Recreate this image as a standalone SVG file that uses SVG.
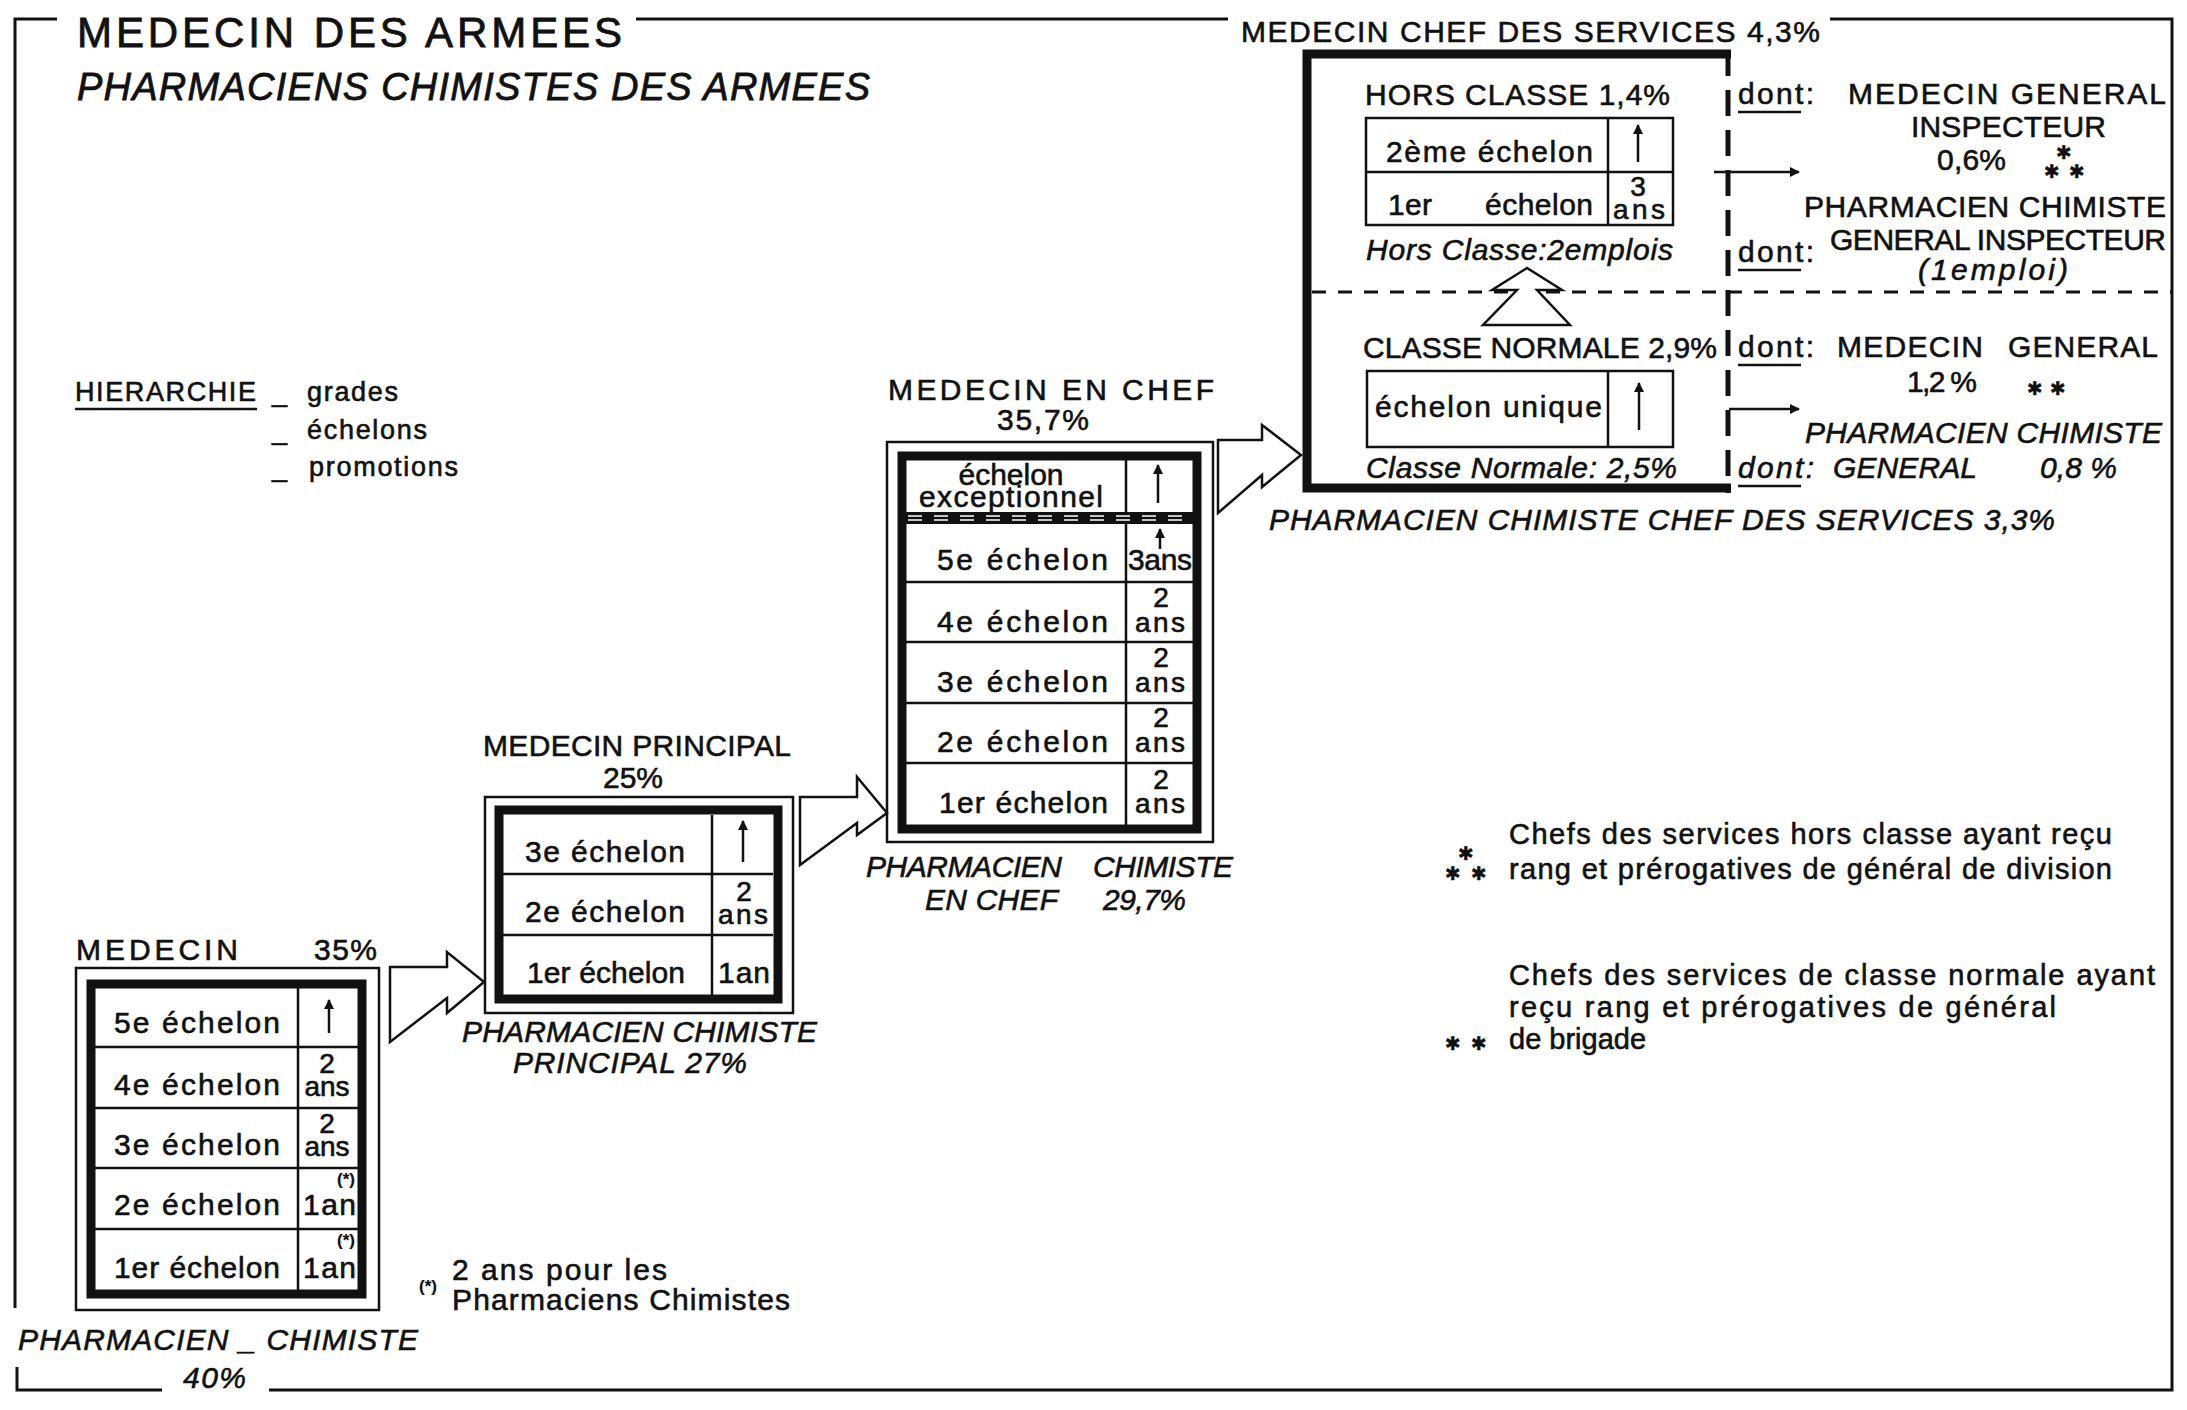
<svg xmlns="http://www.w3.org/2000/svg" width="2187" height="1410" viewBox="0 0 2187 1410">
<style>
text{font-family:"Liberation Sans","DejaVu Sans",sans-serif;fill:#111;stroke:#111;stroke-width:0.6;font-size:30px}
.it{font-style:italic}
.sm{font-size:27px}
.lg{font-size:29px}
.big{font-size:42px;stroke-width:0.8}
.sub{font-size:38px}
.stk{font-size:28px}
.st{font-family:"DejaVu Sans",sans-serif;font-size:19px;stroke-width:0.3}
.tiny{font-size:17px;font-weight:bold;stroke-width:0.2}
.thin{fill:none;stroke:#111;stroke-width:2.5}
.thick{fill:none;stroke:#111;stroke-width:9}
.frame{fill:none;stroke:#111;stroke-width:3}
.big-arrow{fill:#fff;stroke:#111;stroke-width:2.5;stroke-linejoin:miter}
.up{stroke:#111;stroke-width:2.5;marker-end:url(#ah)}
.ul{stroke:#111;stroke-width:2.5}
</style>
<defs>
<marker id="ah" viewBox="0 0 10 10" refX="9" refY="5" markerWidth="13" markerHeight="10" markerUnits="userSpaceOnUse" orient="auto">
<path d="M0,0 L10,5 L0,10 Z" fill="#111"/>
</marker>
</defs>
<rect width="2187" height="1410" fill="#fff"/>

<g id="frame">
<path class="frame" d="M57,19 L15,19 L15,1308"/>
<path class="frame" d="M636,19 L1228,19"/>
<path class="frame" d="M1830,19 L2172,19 L2172,1390 L269,1390"/>
<path class="frame" d="M17,1367 L17,1390 L162,1390"/>
<text class="big" x="77" y="47" textLength="545" lengthAdjust="spacing">MEDECIN DES ARMEES</text>
<text class="big sub it" x="77" y="100" textLength="793" lengthAdjust="spacing">PHARMACIENS  CHIMISTES  DES  ARMEES</text>
<text class="it" x="18" y="1350" textLength="400" lengthAdjust="spacing">PHARMACIEN _ CHIMISTE</text>
<text class="it" x="183" y="1388" textLength="63" lengthAdjust="spacing">40%</text>
</g>

<g id="legend-hierarchie">
<text class="sm" x="75" y="401" textLength="181" lengthAdjust="spacing">HIERARCHIE</text>
<line class="ul" x1="75" y1="409" x2="257" y2="409"/>
<text class="sm" x="272" y="401">_</text>
<text class="sm" x="307" y="401" textLength="91" lengthAdjust="spacing">grades</text>
<text class="sm" x="272" y="439">_</text>
<text class="sm" x="307" y="439" textLength="120" lengthAdjust="spacing">échelons</text>
<text class="sm" x="272" y="476">_</text>
<text class="sm" x="309" y="476" textLength="149" lengthAdjust="spacing">promotions</text>
</g>

<g id="n-medecin">
<text x="76" y="960" textLength="162" lengthAdjust="spacing">MEDECIN</text>
<text x="314" y="960" textLength="63" lengthAdjust="spacing">35%</text>
<rect class="thin" x="76" y="968" width="303" height="342"/>
<rect class="thick" x="91" y="984" width="271" height="310"/>
<line class="thin" x1="298" y1="988" x2="298" y2="1290"/>
<line class="thin" x1="95" y1="1047" x2="358" y2="1047"/>
<line class="thin" x1="95" y1="1108" x2="358" y2="1108"/>
<line class="thin" x1="95" y1="1168" x2="358" y2="1168"/>
<line class="thin" x1="95" y1="1229" x2="358" y2="1229"/>
<text x="114" y="1033" textLength="166" lengthAdjust="spacing">5e  échelon</text>
<text x="114" y="1095" textLength="166" lengthAdjust="spacing">4e  échelon</text>
<text x="114" y="1155" textLength="166" lengthAdjust="spacing">3e  échelon</text>
<text x="114" y="1215" textLength="166" lengthAdjust="spacing">2e  échelon</text>
<text x="114" y="1278" textLength="166" lengthAdjust="spacing">1er  échelon</text>
<line class="up" x1="329" y1="1033" x2="329" y2="1000"/>
<text class="stk" x="327" y="1073" text-anchor="middle">2</text>
<text class="stk" x="327" y="1096" text-anchor="middle">ans</text>
<text class="stk" x="327" y="1133" text-anchor="middle">2</text>
<text class="stk" x="327" y="1156" text-anchor="middle">ans</text>
<text class="tiny" x="346" y="1185" text-anchor="middle">(*)</text>
<text x="303" y="1215" textLength="53" lengthAdjust="spacing">1an</text>
<text class="tiny" x="346" y="1246" text-anchor="middle">(*)</text>
<text x="303" y="1278" textLength="53" lengthAdjust="spacing">1an</text>
<text class="tiny" x="428" y="1292" text-anchor="middle">(*)</text>
<text x="452" y="1280" textLength="215" lengthAdjust="spacing">2 ans  pour les</text>
<text x="452" y="1310" textLength="338" lengthAdjust="spacing">Pharmaciens Chimistes</text>
</g>

<g id="n-principal">
<text x="483" y="756" textLength="308" lengthAdjust="spacing">MEDECIN PRINCIPAL</text>
<text x="603" y="788" textLength="60" lengthAdjust="spacing">25%</text>
<rect class="thin" x="485" y="797" width="308" height="216"/>
<rect class="thick" x="499" y="810" width="279" height="189"/>
<line class="thin" x1="712" y1="815" x2="712" y2="995"/>
<line class="thin" x1="503" y1="874" x2="773" y2="874"/>
<line class="thin" x1="503" y1="935" x2="773" y2="935"/>
<text x="525" y="862" textLength="160" lengthAdjust="spacing">3e échelon</text>
<text x="525" y="922" textLength="160" lengthAdjust="spacing">2e échelon</text>
<text x="527" y="983" textLength="158" lengthAdjust="spacing">1er échelon</text>
<line class="up" x1="743" y1="862" x2="743" y2="821"/>
<text class="stk" x="744" y="901" text-anchor="middle">2</text>
<text class="stk" x="718" y="924" textLength="50" lengthAdjust="spacing">ans</text>
<text x="718" y="983" textLength="52" lengthAdjust="spacing">1an</text>
<text class="it" x="462" y="1042" textLength="355" lengthAdjust="spacing">PHARMACIEN CHIMISTE</text>
<text class="it" x="513" y="1073" textLength="234" lengthAdjust="spacing">PRINCIPAL 27%</text>
</g>

<g id="n-en-chef">
<text x="888" y="400" textLength="326" lengthAdjust="spacing">MEDECIN  EN  CHEF</text>
<text x="997" y="430" textLength="92" lengthAdjust="spacing">35,7%</text>
<rect class="thin" x="887" y="442" width="326" height="400"/>
<rect class="thick" x="902" y="456" width="295" height="373"/>
<line class="thin" x1="1126" y1="460" x2="1126" y2="825"/>
<rect x="902" y="512" width="295" height="12" fill="#111"/>
<line x1="908" y1="516" x2="1193" y2="516" stroke="#fff" stroke-width="1.6" stroke-dasharray="14 12"/>
<line x1="908" y1="520" x2="1193" y2="520" stroke="#fff" stroke-width="1.6" stroke-dasharray="14 12"/>
<line class="thin" x1="906" y1="582" x2="1193" y2="582"/>
<line class="thin" x1="906" y1="642" x2="1193" y2="642"/>
<line class="thin" x1="906" y1="703" x2="1193" y2="703"/>
<line class="thin" x1="906" y1="763" x2="1193" y2="763"/>
<text x="1011" y="485" text-anchor="middle">échelon</text>
<text x="919" y="507" textLength="184" lengthAdjust="spacing">exceptionnel</text>
<line class="up" x1="1158" y1="503" x2="1158" y2="465"/>
<line class="up" x1="1160" y1="549" x2="1160" y2="529"/>
<text x="937" y="570" textLength="171" lengthAdjust="spacing">5e  échelon</text>
<text x="1128" y="570" textLength="64" lengthAdjust="spacing">3ans</text>
<text x="937" y="632" textLength="171" lengthAdjust="spacing">4e  échelon</text>
<text class="stk" x="1161" y="607" text-anchor="middle">2</text>
<text class="stk" x="1135" y="632" textLength="50" lengthAdjust="spacing">ans</text>
<text x="937" y="692" textLength="171" lengthAdjust="spacing">3e  échelon</text>
<text class="stk" x="1161" y="667" text-anchor="middle">2</text>
<text class="stk" x="1135" y="692" textLength="50" lengthAdjust="spacing">ans</text>
<text x="937" y="752" textLength="171" lengthAdjust="spacing">2e  échelon</text>
<text class="stk" x="1161" y="727" text-anchor="middle">2</text>
<text class="stk" x="1135" y="752" textLength="50" lengthAdjust="spacing">ans</text>
<text x="939" y="813" textLength="169" lengthAdjust="spacing">1er  échelon</text>
<text class="stk" x="1161" y="789" text-anchor="middle">2</text>
<text class="stk" x="1135" y="813" textLength="50" lengthAdjust="spacing">ans</text>
<text class="it" y="877"><tspan x="866" textLength="196" lengthAdjust="spacing">PHARMACIEN</tspan><tspan x="1093" textLength="140" lengthAdjust="spacing">CHIMISTE</tspan></text>
<text class="it" y="910"><tspan x="925" textLength="133" lengthAdjust="spacing">EN CHEF</tspan><tspan x="1103" textLength="83" lengthAdjust="spacing">29,7%</tspan></text>
</g>

<g id="n-chef-services">
<text x="1241" y="42" textLength="579" lengthAdjust="spacing">MEDECIN CHEF DES SERVICES 4,3%</text>
<path class="thick" d="M1731,54 L1307,54 L1307,488 L1731,488"/>
<line x1="1728" y1="50" x2="1728" y2="493" stroke="#111" stroke-width="5" stroke-dasharray="26 14"/>
<line x1="1312" y1="292" x2="2172" y2="292" stroke="#111" stroke-width="3" stroke-dasharray="14 12"/>
<text x="1365" y="105" textLength="305" lengthAdjust="spacing">HORS  CLASSE  1,4%</text>
<rect class="thin" x="1366" y="118" width="307" height="107"/>
<line class="thin" x1="1366" y1="172" x2="1673" y2="172"/>
<line class="thin" x1="1608" y1="118" x2="1608" y2="225"/>
<text x="1386" y="162" textLength="207" lengthAdjust="spacing">2ème  échelon</text>
<line class="up" x1="1638" y1="162" x2="1638" y2="125"/>
<text x="1388" y="215" textLength="44" lengthAdjust="spacing">1er</text>
<text x="1485" y="215" textLength="108" lengthAdjust="spacing">échelon</text>
<text class="stk" x="1638" y="196" text-anchor="middle">3</text>
<text class="stk" x="1613" y="219" textLength="52" lengthAdjust="spacing">ans</text>
<text class="it" x="1366" y="260" textLength="307" lengthAdjust="spacing">Hors Classe:2emplois</text>
<text x="1363" y="358" textLength="354" lengthAdjust="spacing">CLASSE NORMALE 2,9%</text>
<rect class="thin" x="1367" y="371" width="306" height="76"/>
<line class="thin" x1="1608" y1="371" x2="1608" y2="447"/>
<text x="1375" y="417" textLength="227" lengthAdjust="spacing">échelon  unique</text>
<line class="up" x1="1639" y1="430" x2="1639" y2="383"/>
<text class="it" x="1366" y="478" textLength="311" lengthAdjust="spacing">Classe Normale: 2,5%</text>
<text class="it" x="1269" y="530" textLength="786" lengthAdjust="spacing">PHARMACIEN CHIMISTE CHEF DES SERVICES 3,3%</text>
</g>

<g id="n-generaux">
<text x="1738" y="104" textLength="76" lengthAdjust="spacing">dont:</text>
<line class="ul" x1="1738" y1="112" x2="1801" y2="112"/>
<text x="1848" y="104" textLength="318" lengthAdjust="spacing">MEDECIN  GENERAL</text>
<text x="1911" y="137" textLength="195" lengthAdjust="spacing">INSPECTEUR</text>
<text x="1937" y="170" textLength="69" lengthAdjust="spacing">0,6%</text>
<text class="st" x="2064" y="159" text-anchor="middle">✱</text>
<text class="st" x="2052" y="178" text-anchor="middle">✱</text>
<text class="st" x="2077" y="178" text-anchor="middle">✱</text>
<text x="1804" y="217" textLength="362" lengthAdjust="spacing">PHARMACIEN CHIMISTE</text>
<text x="1738" y="262" textLength="76" lengthAdjust="spacing">dont:</text>
<line class="ul" x1="1738" y1="270" x2="1801" y2="270"/>
<text x="1830" y="250" textLength="336" lengthAdjust="spacing">GENERAL INSPECTEUR</text>
<text class="it" x="1918" y="280" textLength="150" lengthAdjust="spacing">(1emploi)</text>
<text x="1738" y="357" textLength="76" lengthAdjust="spacing">dont:</text>
<line class="ul" x1="1738" y1="365" x2="1801" y2="365"/>
<text y="357"><tspan x="1837" textLength="146" lengthAdjust="spacing">MEDECIN</tspan><tspan x="2008" textLength="150" lengthAdjust="spacing">GENERAL</tspan></text>
<text x="1907" y="392" textLength="70" lengthAdjust="spacing">1,2 %</text>
<text class="st" x="2035" y="395" text-anchor="middle">✱</text>
<text class="st" x="2058" y="395" text-anchor="middle">✱</text>
<text class="it" x="1805" y="443" textLength="357" lengthAdjust="spacing">PHARMACIEN CHIMISTE</text>
<text class="it" x="1738" y="478" textLength="76" lengthAdjust="spacing">dont:</text>
<line class="ul" x1="1738" y1="486" x2="1801" y2="486"/>
<text class="it" x="1833" y="478" textLength="144" lengthAdjust="spacing">GENERAL</text>
<text class="it" x="2040" y="478" textLength="77" lengthAdjust="spacing">0,8 %</text>
</g>

<g id="legend-etoiles">
<text class="st" x="1466" y="860" text-anchor="middle">✱</text>
<text class="st" x="1453" y="880" text-anchor="middle">✱</text>
<text class="st" x="1479" y="880" text-anchor="middle">✱</text>
<text class="lg" x="1509" y="844" textLength="603" lengthAdjust="spacing">Chefs des services hors classe ayant reçu</text>
<text class="lg" x="1509" y="879" textLength="603" lengthAdjust="spacing">rang et prérogatives de général de division</text>
<text class="st" x="1453" y="1050" text-anchor="middle">✱</text>
<text class="st" x="1479" y="1050" text-anchor="middle">✱</text>
<text class="lg" x="1509" y="985" textLength="646" lengthAdjust="spacing">Chefs des services de classe normale ayant</text>
<text class="lg" x="1509" y="1017" textLength="547" lengthAdjust="spacing">reçu rang et prérogatives de général</text>
<text class="lg" x="1509" y="1049">de brigade</text>
</g>

<g id="connectors">
<path class="big-arrow" d="M390,967 L447,967 L447,952 L484,982 L447,1013 L447,998 L390,1042 Z"/>
<path class="big-arrow" d="M800,797 L857,797 L857,777 L887,813 L857,835 L857,823 L800,865 Z"/>
<path class="big-arrow" d="M1218,440 L1262,440 L1262,425 L1301,455 L1262,487 L1262,475 L1218,513 Z"/>
<path class="big-arrow" d="M1527,268 L1492,290 L1517,290 L1483,325 L1570,325 L1537,290 L1562,290 Z"/>
<line class="up" x1="1714" y1="172" x2="1799" y2="172"/>
<line class="up" x1="1729" y1="409" x2="1799" y2="409"/>
</g>
</svg>
